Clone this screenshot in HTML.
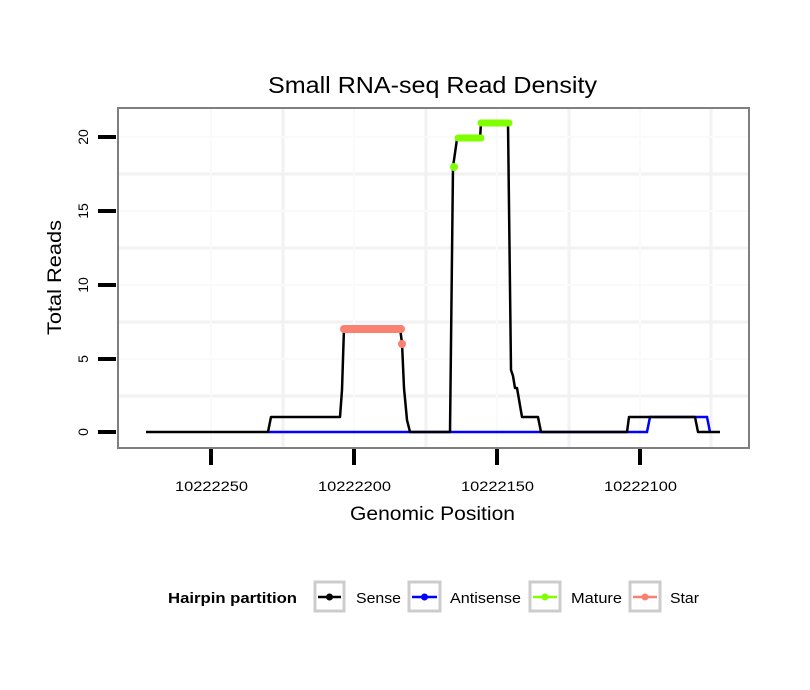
<!DOCTYPE html>
<html><head><style>body{margin:0;background:#fff}svg{display:block}</style></head><body>
<svg width="810" height="690" xmlns="http://www.w3.org/2000/svg" font-family="Liberation Sans, sans-serif">
<rect width="810" height="690" fill="#fff"/>
<text x="268" y="93" font-size="23" textLength="329" lengthAdjust="spacingAndGlyphs">Small RNA-seq Read Density</text>
<g stroke="#f2f2f2" stroke-width="3">
<line x1="283" y1="108" x2="283" y2="448"/><line x1="426" y1="108" x2="426" y2="448"/>
<line x1="569" y1="108" x2="569" y2="448"/><line x1="711" y1="108" x2="711" y2="448"/>
<line x1="118" y1="174" x2="749" y2="174"/><line x1="118" y1="248" x2="749" y2="248"/>
<line x1="118" y1="322" x2="749" y2="322"/><line x1="118" y1="396" x2="749" y2="396"/>
</g>
<g stroke="#fafafa" stroke-width="2">
<line x1="211" y1="108" x2="211" y2="448"/><line x1="354" y1="108" x2="354" y2="448"/>
<line x1="497" y1="108" x2="497" y2="448"/><line x1="640" y1="108" x2="640" y2="448"/>
<line x1="118" y1="137" x2="749" y2="137"/><line x1="118" y1="211" x2="749" y2="211"/>
<line x1="118" y1="285" x2="749" y2="285"/><line x1="118" y1="359" x2="749" y2="359"/>
</g>
<polyline fill="none" stroke="#0000ff" stroke-width="2.5" points="268,432 647,432 650,417 707,417 710,432"/>
<polyline fill="none" stroke="#000" stroke-width="2.5" stroke-linejoin="round" points="146,432 268,432 271,417 340,417 342,390 344,328 400,328 402,343 404,388 407,420 410,432 450,432 453,167 457,139 480,139 481,123 508,123 511,370 513,376 515,388 517,388 522,417 538,417 541,432 627,432 629,417 695,417 698,432 720,432"/>
<line x1="344" y1="329" x2="401" y2="329" stroke="#fa8072" stroke-width="8" stroke-linecap="round"/>
<circle cx="402" cy="344" r="4" fill="#fa8072"/>
<circle cx="454" cy="167" r="4" fill="#7fff00"/>
<line x1="458" y1="138" x2="481" y2="138" stroke="#7fff00" stroke-width="7" stroke-linecap="round"/>
<line x1="481" y1="123" x2="509" y2="123" stroke="#7fff00" stroke-width="7" stroke-linecap="round"/>
<rect x="118" y="108" width="631" height="340" fill="none" stroke="#7f7f7f" stroke-width="2"/>
<g stroke="#000" stroke-width="4">
<line x1="98" y1="432" x2="116" y2="432"/><line x1="98" y1="359" x2="116" y2="359"/>
<line x1="98" y1="285" x2="116" y2="285"/><line x1="98" y1="211" x2="116" y2="211"/>
<line x1="98" y1="137" x2="116" y2="137"/>
<line x1="211" y1="449" x2="211" y2="465"/><line x1="354" y1="449" x2="354" y2="465"/>
<line x1="497" y1="449" x2="497" y2="465"/><line x1="640" y1="449" x2="640" y2="465"/>
</g>
<g font-size="14">
<text transform="translate(88,432) rotate(-90)" text-anchor="middle">0</text>
<text transform="translate(88,359) rotate(-90)" text-anchor="middle">5</text>
<text transform="translate(88,285) rotate(-90)" text-anchor="middle">10</text>
<text transform="translate(88,211) rotate(-90)" text-anchor="middle">15</text>
<text transform="translate(88,137) rotate(-90)" text-anchor="middle">20</text>
<text x="175" y="491" textLength="73" lengthAdjust="spacingAndGlyphs">10222250</text>
<text x="318" y="491" textLength="73" lengthAdjust="spacingAndGlyphs">10222200</text>
<text x="461" y="491" textLength="73" lengthAdjust="spacingAndGlyphs">10222150</text>
<text x="604" y="491" textLength="73" lengthAdjust="spacingAndGlyphs">10222100</text>
</g>
<text x="350" y="520" font-size="19" textLength="165" lengthAdjust="spacingAndGlyphs">Genomic Position</text>
<text transform="translate(61,335) rotate(-90)" font-size="19" textLength="115" lengthAdjust="spacingAndGlyphs">Total Reads</text>
<text x="168" y="603" font-size="15" font-weight="bold" textLength="129" lengthAdjust="spacingAndGlyphs">Hairpin partition</text>
<g stroke="#ccc" stroke-width="3" fill="#fff">
<rect x="315" y="582" width="29" height="29"/><rect x="409" y="582" width="31" height="29"/>
<rect x="530" y="582" width="30" height="29"/><rect x="630" y="582" width="30" height="29"/>
</g>
<g stroke-width="2.5">
<line x1="318" y1="597" x2="341" y2="597" stroke="#000"/><circle cx="329.5" cy="597" r="3.5" fill="#000"/>
<line x1="412" y1="597" x2="437" y2="597" stroke="#0000ff"/><circle cx="424.5" cy="597" r="3.5" fill="#0000ff"/>
<line x1="533" y1="597" x2="557" y2="597" stroke="#7fff00"/><circle cx="545" cy="597" r="3.5" fill="#7fff00"/>
<line x1="633" y1="597" x2="657" y2="597" stroke="#fa8072"/><circle cx="645" cy="597" r="3.5" fill="#fa8072"/>
</g>
<g font-size="15">
<text x="356" y="603" textLength="45" lengthAdjust="spacingAndGlyphs">Sense</text>
<text x="450" y="603" textLength="71" lengthAdjust="spacingAndGlyphs">Antisense</text>
<text x="571" y="603" textLength="51" lengthAdjust="spacingAndGlyphs">Mature</text>
<text x="670" y="603" textLength="29" lengthAdjust="spacingAndGlyphs">Star</text>
</g>
</svg>
</body></html>
